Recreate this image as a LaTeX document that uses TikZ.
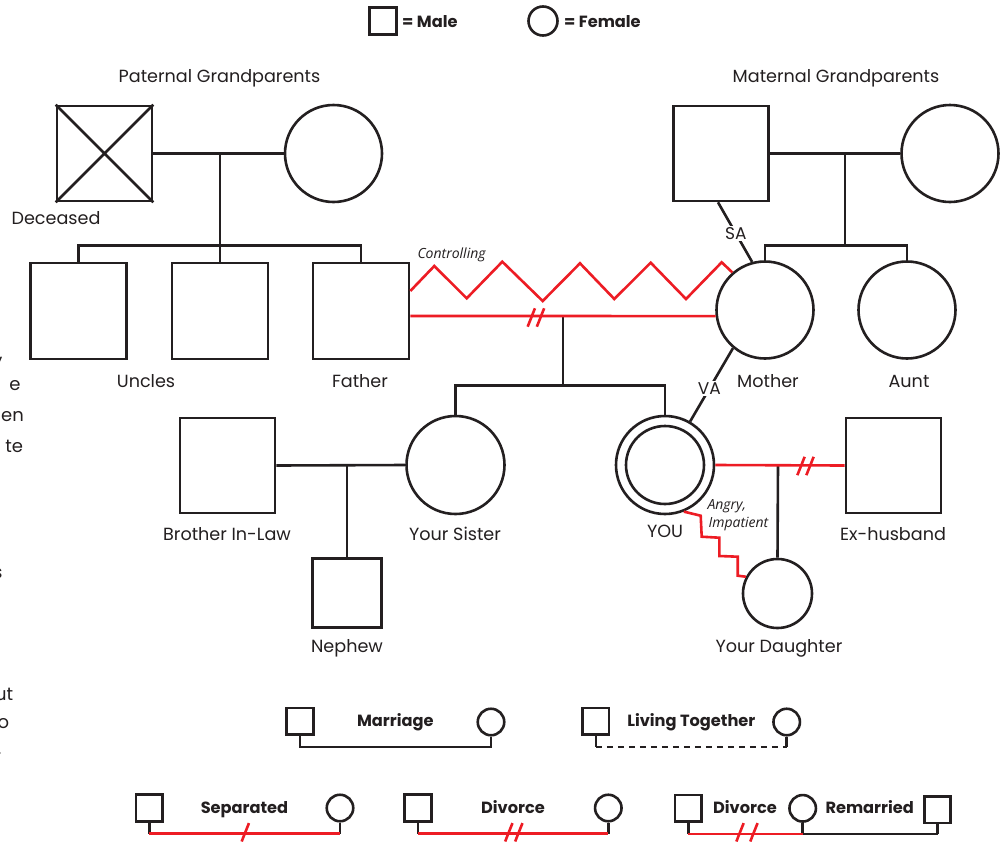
\documentclass[tikz,border=0pt]{standalone}
\usepackage{fontspec}
\setmainfont{Poppins}
\newfontfamily\itfont{Open Sans}
\definecolor{ink}{HTML}{231F20}
\definecolor{rel}{HTML}{ED1C24}
\tikzset{
  male/.style={draw=ink, rectangle, line width=2.6pt, minimum size=#1, inner sep=0pt, fill=white},
  male/.default=96pt,
  female/.style={draw=ink, circle, line width=2.6pt, minimum size=#1, inner sep=0pt, fill=white},
  female/.default=97pt,
  tie/.style={draw=ink, line width=2.6pt},
  redtie/.style={draw=rel, line width=2.6pt},
  lbl/.style={font=\fontsize{17.6}{20}\selectfont, text=ink, inner sep=0pt, anchor=base},
  leg/.style={font=\fontsize{16.2}{18}\selectfont\bfseries, text=ink, inner sep=0pt, anchor=base},
  ital/.style={font=\itfont\itshape\fontsize{14}{16}\selectfont, text=ink, inner sep=0pt, anchor=base west},
  abuse/.style={font=\fontsize{17}{18}\selectfont, text=ink, fill=white, inner sep=1.2pt},
  frag/.style={font=\fontsize{18}{20}\selectfont, text=ink, inner sep=0pt, anchor=base east},
  sslash/.pic={\draw[redtie] (-3.65,9.2) -- (3.65,-9.2);}
}
\begin{document}
\begin{tikzpicture}[x=1pt,y=-1pt]
\useasboundingbox (0,0) rectangle (1007,841);
\clip (0,0) rectangle (1007,841);
\fill[white] (0,0) rectangle (1007,841);

% cut-off text on the left edge (as in the reference)
\node[frag] (f1) at (3,359) {,};
\node[frag] (f2) at (20.7,390) {e};
\node[frag] (f3) at (24,421.7) {en};
\node[frag] (f4) at (23.3,452.7) {te};
\node[frag] (f5) at (2.7,578) {s};
\node[frag] (f6) at (13.3,700) {ut};
\node[frag] (f7) at (9.3,728) {o};
\node[frag] (f8) at (1.7,754) {.};

% top legend
\node[male=27pt] (legm) at (383,21) {};
\node[leg, anchor=base west] (legmt) at (402,27.5) {= Male};
\node[female=29pt] (legf) at (543,21) {};
\node[leg, anchor=base west] (legft) at (564,27.5) {= Female};

% paternal side
\node[lbl] (ptl) at (219.5,82) {Paternal Grandparents};
\node[male=95pt] (pgf) at (104.5,153.5) {};
\draw[tie] (pgf.north west) -- (pgf.south east) (pgf.north east) -- (pgf.south west);
\node[female] (pgm) at (333.5,153.5) {};
\node[lbl] (dec) at (56,224) {Deceased};
\draw[tie] (pgf.east) -- (pgm.west);
\coordinate (pgc) at (220,153.5);
\coordinate (pgs) at (220,245.5);
\node[male] (u1) at (78.5,311) {};
\node[male] (u2) at (220,311) {};
\node[male] (father) at (361,311) {};
\draw[tie] (pgc) -- (u2.north);
\draw[tie] (u1.north) |- (pgs) -| (father.north);
\node[lbl] (uncl) at (146,387) {Uncles};
\node[lbl] (fatl) at (360,387) {Father};

% maternal side
\node[lbl] (mtl) at (836,82) {Maternal Grandparents};
\node[male=95pt] (mgf) at (721,153.5) {};
\node[female] (mgm) at (950,153.5) {};
\draw[tie] (mgf.east) -- (mgm.west);
\coordinate (mgc) at (845,153.5);
\coordinate (mgs) at (845,245.5);
\node[female] (mother) at (765,310) {};
\node[female] (aunt) at (907,310) {};
\draw[tie] (mgc) -- (mgs);
\draw[tie] (mother.north) |- (mgs) -| (aunt.north);
\node[lbl] (motl) at (768,387) {Mother};
\node[lbl] (auntl) at (909,387) {Aunt};
\draw[tie] ([xshift=-3pt]mgf.south) -- node[abuse, pos=0.52] (sa) {SA} (mother.105);

% parents
\draw[redtie, line join=miter] ([yshift=20pt]father.east) -- (434.3,266) -- (466.7,298.3) -- (502.3,261.7) -- (542.7,301) -- (580,263.3) -- (614.3,299) -- (650.7,262.7) -- (686,299) -- (721.7,262.3) -- (mother.131);
\node[ital] (ctl) at (417.3,258) {Controlling};
\coordinate (fmc) at (563,316);
\coordinate (fms) at (563,385.5);
\node[female=98pt] (sister) at (455.5,465) {};
\node[female=98pt] (you) at (665,465) {};
\node[female=78pt] (youin) at (665,465) {};
\draw[tie] (fmc) -- (fms);
\draw[tie] (sister.north) |- (fms) -| (you.north);
\draw[redtie] ([yshift=-5pt]father.east) -- (mother.187);
\pic at (531.3,317.5) {sslash};
\pic at (540.5,317.5) {sslash};
\draw[tie] (mother.230) -- node[abuse, pos=0.55] (va) {VA} (you.60);

% sister's family
\node[male=95pt] (bil) at (227.5,465.5) {};
\coordinate (bsc) at (347,465);
\node[male=69pt] (nephew) at (347,592.7) {};
\draw[tie] (bil.east) -- (sister.west);
\draw[tie] (bsc) -- (nephew.north);
\node[lbl] (bill) at (227,540) {Brother In-Law};
\node[lbl] (sisl) at (455,540) {Your Sister};
\node[lbl] (nepl) at (347,652) {Nephew};

% your family
\node[male=95pt] (ex) at (893.5,465.5) {};
\coordinate (yec) at (778,465);
\node[female=69pt] (daughter) at (777.5,593.5) {};
\draw[tie] (yec) -- (daughter.north);
\draw[redtie] (you.east) -- (ex.west);
\pic at (801,466) {sslash};
\pic at (810,466) {sslash};
\draw[redtie] (you.292) -- (700.7,515.7) -- (701.7,536.7) -- (719.3,537.7) -- (719.3,556) -- (737.7,556.7) -- (737.7,575.7) -- (daughter.152);
\node[ital] (ang1) at (707.3,509) {Angry,};
\node[ital] (ang2) at (708.3,527) {Impatient};
\node[lbl] (youl) at (665,537) {YOU};
\node[lbl] (exl) at (893,540) {Ex-husband};
\node[lbl] (daul) at (779,652) {Your Daughter};

% bottom legend: marriage
\node[male=26.5pt] (lm1) at (300,721.3) {};
\node[female=26.5pt] (lf1) at (491,722) {};
\draw[tie] (lm1.south) -- ++(0,11) -| (lf1.south);
\node[leg] (lmt) at (395.3,726.5) {Marriage};
% living together
\node[male=26.5pt] (lm2) at (595.8,721.3) {};
\node[female=26.5pt] (lf2) at (786.7,722) {};
\coordinate (lt1) at ([yshift=-11pt]lm2.south);
\coordinate (lt2) at (lf2.south |- lt1);
\draw[tie] (lm2.south) -- (lt1);
\draw[tie] (lf2.south) -- (lt2);
\draw[tie, dash pattern=on 6pt off 5pt] (lt1) -- (lt2);
\node[leg] (ltt) at (691.3,726.5) {Living Together};
% separated
\node[male=26.5pt] (ls1) at (149.3,808) {};
\node[female=26.5pt] (ls2) at (340,808) {};
\coordinate (s1) at ([yshift=-11pt]ls1.south);
\coordinate (s2) at (ls2.south |- s1);
\draw[tie] (ls1.south) -- (s1);
\draw[tie] (ls2.south) -- (s2);
\draw[redtie] (s1) -- (s2);
\pic at (245.3,832.3) {sslash};
\node[leg] (lst) at (244.5,813.5) {Separated};
% divorce
\node[male=26.5pt] (ld1) at (418,808) {};
\node[female=26.5pt] (ld2) at (608.3,808) {};
\coordinate (d1) at ([yshift=-11pt]ld1.south);
\coordinate (d2) at (ld2.south |- d1);
\draw[tie] (ld1.south) -- (d1);
\draw[tie] (ld2.south) -- (d2);
\draw[redtie] (d1) -- (d2);
\pic at (508.8,832.3) {sslash};
\pic at (518.8,832.3) {sslash};
\node[leg] (ldt) at (513,813.5) {Divorce};
% divorce and remarried
\node[male=26.5pt] (lr1) at (688.3,808.3) {};
\node[female=26.5pt] (lr2) at (802.7,808.3) {};
\node[male=26.5pt] (lr3) at (937.5,809.7) {};
\coordinate (r1) at ([yshift=-11pt]lr1.south);
\coordinate (r2) at (lr2.south |- r1);
\coordinate (r3) at (lr3.south |- r1);
\draw[tie] (lr1.south) -- (r1);
\draw[tie] (lr2.south) -- (r2);
\draw[tie] (lr3.south) -- (r3);
\draw[tie] (r2) -- (r3);
\draw[redtie] (r1) -- (r2);
\pic at (740,832.3) {sslash};
\pic at (753.9,832.3) {sslash};
\node[leg] (lrt1) at (745,813.5) {Divorce};
\node[leg] (lrt2) at (869.7,813.5) {Remarried};
\end{tikzpicture}
\end{document}
